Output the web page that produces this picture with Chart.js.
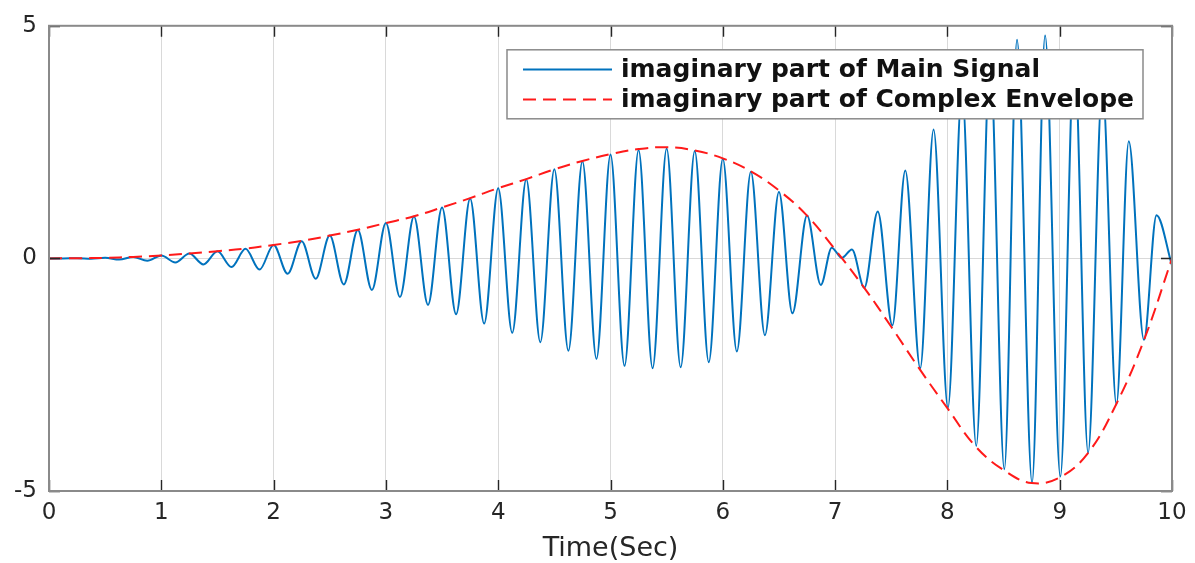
<!DOCTYPE html>
<html>
<head>
<meta charset="utf-8">
<script src="https://cdn.jsdelivr.net/npm/chart.js@4.4.1/dist/chart.umd.min.js"></script>
<style>
  html, body { margin: 0; padding: 0; background: #ffffff; }
  #wrap { position: relative; width: 1195px; height: 563px; }
</style>
</head>
<body>
<div id="wrap"><canvas id="c"></canvas></div>
<script>
// ---- data ----
const xTitle = 'Time(Sec)';
const seriesLabels = ['imaginary part of Main Signal', 'imaginary part of Complex Envelope'];

const xTicks = [0, 1, 2, 3, 4, 5, 6, 7, 8, 9, 10];
const yTicks = [-5, 0, 5];

// local extremes of the blue signal (time, value)
const sigTime = [
  0, 0.125, 0.25, 0.375, 0.5, 0.625, 0.75, 0.875,
  1.0, 1.125, 1.25, 1.375, 1.5, 1.625, 1.75, 1.875,
  2.0, 2.125, 2.25, 2.375, 2.5, 2.625, 2.75, 2.875,
  3.0, 3.125, 3.25, 3.375, 3.5, 3.625, 3.75, 3.875,
  4.0, 4.125, 4.25, 4.375, 4.5, 4.625, 4.75, 4.875,
  5.0, 5.125, 5.25, 5.375, 5.5, 5.625, 5.75, 5.875,
  6.0, 6.125, 6.25, 6.375, 6.5, 6.62, 6.75, 6.873,
  6.97, 7.06, 7.15, 7.26, 7.38, 7.51, 7.625, 7.758,
  7.877, 8.005, 8.13, 8.257, 8.38, 8.507, 8.62, 8.754,
  8.87, 9.006, 9.13, 9.253, 9.38, 9.505, 9.615, 9.75,
  9.862, 10.0
];
const sigValue = [
  0, -0.001, 0.003, -0.008, 0.013, -0.025, 0.032, -0.05,
  0.063, -0.086, 0.105, -0.13, 0.152, -0.186, 0.205, -0.24,
  0.29, -0.33, 0.37, -0.435, 0.49, -0.56, 0.61, -0.68,
  0.76, -0.83, 0.9, -1.0, 1.095, -1.2, 1.29, -1.4,
  1.51, -1.6, 1.7, -1.8, 1.915, -1.985, 2.09, -2.16,
  2.235, -2.31, 2.33, -2.36, 2.36, -2.34, 2.31, -2.23,
  2.14, -2.0, 1.86, -1.65, 1.43, -1.18, 0.92, -0.57,
  0.23, 0.01, 0.19, -0.63, 1.01, -1.44, 1.89, -2.36,
  2.77, -3.21, 3.62, -4.03, 4.3, -4.53, 4.70, -4.82,
  4.79, -4.69, 4.4, -4.18, 3.7, -3.14, 2.52, -1.75,
  0.93, -0.15
];

// red dashed envelope (time, value)
const envTime = [
  0, 0.25, 0.5, 0.75, 1, 1.25, 1.5, 1.75, 2, 2.25,
  2.5, 2.75, 3, 3.25, 3.5, 3.75, 4, 4.25, 4.5, 4.75,
  5, 5.25, 5.5, 5.75, 6, 6.25, 6.5, 6.75, 7, 7.25,
  7.5, 7.75, 8, 8.25, 8.5, 8.75, 9, 9.25, 9.5, 9.75, 10
];
const envValue = [
  0, 0.003, 0.012, 0.032, 0.063, 0.105, 0.155, 0.21, 0.29, 0.375,
  0.49, 0.615, 0.76, 0.905, 1.095, 1.295, 1.51, 1.705, 1.915, 2.095,
  2.24, 2.35, 2.39, 2.32, 2.15, 1.87, 1.46, 0.92, 0.19, -0.6,
  -1.47, -2.37, -3.22, -4.04, -4.55, -4.83, -4.71, -4.19, -3.15, -1.76, 0
];

// ---- build library structures ----
const sigPoints = sigTime.map((t, i) => ({ x: t, y: sigValue[i] }));
const envPoints = envTime.map((t, i) => ({ x: t, y: envValue[i] }));

const TICK_FONT = { family: 'DejaVu Sans', size: 23 };

// box around plot area with inward tick marks (MATLAB style)
const axesBox = {
  id: 'axesBox',
  afterDatasetsDraw(chart) {
    const { ctx, chartArea: a, scales } = chart;
    ctx.save();
    const tl = 11;
    ctx.strokeStyle = '#262626';
    ctx.lineWidth = 1.4;
    ctx.beginPath();
    scales.x.ticks.forEach(t => {
      const px = Math.round(scales.x.getPixelForValue(t.value)) + 0.5;
      ctx.moveTo(px, a.bottom); ctx.lineTo(px, a.bottom - tl);
      ctx.moveTo(px, a.top); ctx.lineTo(px, a.top + tl);
    });
    scales.y.ticks.forEach(t => {
      const py = Math.round(scales.y.getPixelForValue(t.value)) + 0.5;
      ctx.moveTo(a.left, py); ctx.lineTo(a.left + tl, py);
      ctx.moveTo(a.right, py); ctx.lineTo(a.right - tl, py);
    });
    ctx.stroke();
    ctx.strokeStyle = '#8a8a8a';
    ctx.lineWidth = 2;
    ctx.strokeRect(a.left, a.top, a.right - a.left, a.bottom - a.top);
    ctx.restore();
  }
};

// legend drawn inside the plot area, top right
const insideLegend = {
  id: 'insideLegend',
  afterDraw(chart) {
    const { ctx, chartArea: a } = chart;
    const sets = chart.data.datasets;
    ctx.save();
    ctx.font = 'bold 25px "DejaVu Sans"';
    const textW = Math.max(...sets.map(d => ctx.measureText(d.label).width));
    const padL = 16, lineLen = 89, gap = 9, padR = 9, rowH = 30, padT = 19.7;
    const w = padL + lineLen + gap + textW + padR;
    const h = rowH * sets.length + 9;
    const x = a.right - 29 - w;
    const y = a.top + 24;
    ctx.fillStyle = '#ffffff';
    ctx.fillRect(x, y, w, h);
    ctx.strokeStyle = '#8a8a8a';
    ctx.lineWidth = 1.5;
    ctx.strokeRect(x, y, w, h);
    sets.forEach((d, i) => {
      const cy = y + padT + i * rowH;
      ctx.beginPath();
      ctx.strokeStyle = d.borderColor;
      ctx.lineWidth = d.borderWidth;
      ctx.setLineDash(d.borderDash || []);
      ctx.moveTo(x + padL, cy);
      ctx.lineTo(x + padL + lineLen, cy);
      ctx.stroke();
      ctx.setLineDash([]);
      ctx.fillStyle = '#111111';
      ctx.textBaseline = 'middle';
      ctx.textAlign = 'left';
      ctx.fillText(d.label, x + padL + lineLen + gap, cy + 1);
    });
    ctx.restore();
  }
};

new Chart(document.getElementById('c'), {
  type: 'line',
  data: {
    datasets: [
      {
        label: seriesLabels[0],
        data: sigPoints,
        borderColor: '#0072BD',
        borderWidth: 2,
        pointRadius: 0,
        cubicInterpolationMode: 'monotone',
        fill: false,
        order: 1
      },
      {
        label: seriesLabels[1],
        data: envPoints,
        borderColor: '#ff1a1a',
        borderWidth: 2,
        borderDash: [13, 7],
        pointRadius: 0,
        tension: 0.4,
        fill: false,
        order: 0
      }
    ]
  },
  options: {
    responsive: true,
    maintainAspectRatio: false,
    animation: false,
    layout: { padding: { top: 22, right: 23, left: 0, bottom: 0 } },
    plugins: { legend: { display: false }, tooltip: { enabled: false } },
    scales: {
      x: {
        type: 'linear',
        min: xTicks[0],
        max: xTicks[xTicks.length - 1],
        afterBuildTicks(scale) { scale.ticks = xTicks.map(v => ({ value: v })); },
        ticks: { padding: 8, color: '#262626', font: TICK_FONT, maxRotation: 0, autoSkip: false },
        grid: { color: '#d9d9d9', lineWidth: 1, drawTicks: false },
        border: { display: false },
        title: {
          display: true, text: xTitle, color: '#262626',
          font: { family: 'DejaVu Sans', size: 27, lineHeight: 1 },
          padding: { top: 0, bottom: 1 }
        },
        afterFit(scale) { scale.height = 72; }
      },
      y: {
        type: 'linear',
        min: yTicks[0],
        max: yTicks[yTicks.length - 1],
        afterBuildTicks(scale) { scale.ticks = yTicks.map(v => ({ value: v })); },
        ticks: { padding: 12, color: '#262626', font: TICK_FONT },
        grid: { color: '#d9d9d9', lineWidth: 1, drawTicks: false },
        border: { display: false },
        afterFit(scale) { scale.width = 49; }
      }
    }
  },
  plugins: [axesBox, insideLegend]
});
</script>
</body>
</html>
